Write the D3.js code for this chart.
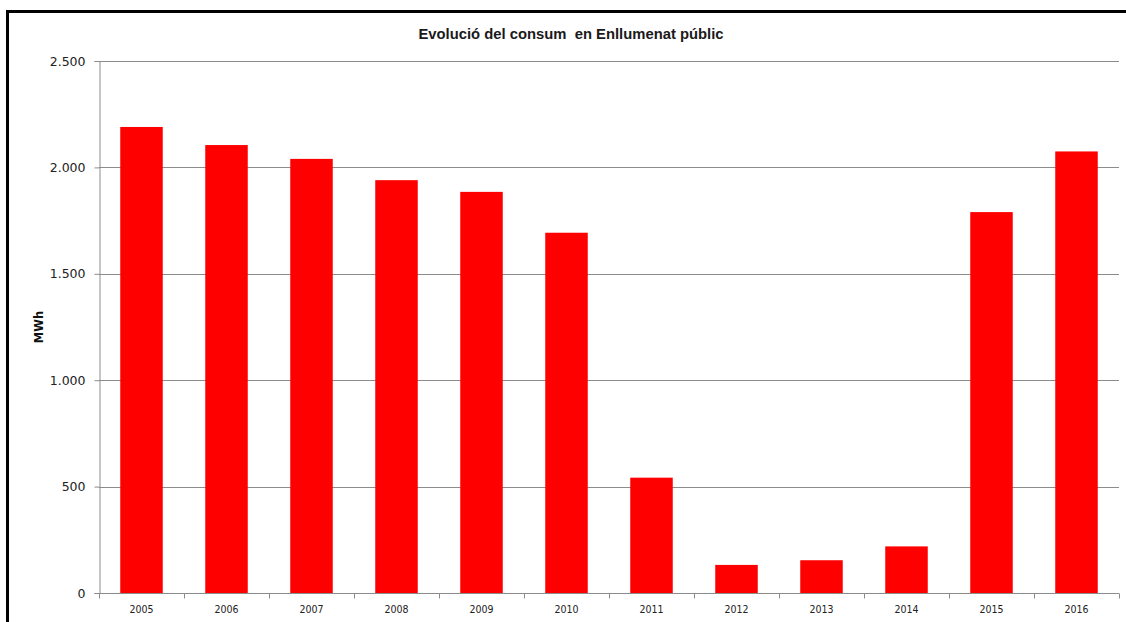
<!DOCTYPE html>
<html>
<head>
<meta charset="utf-8">
<script src="https://cdn.jsdelivr.net/npm/d3@7"></script>
<style>
  html, body { margin: 0; padding: 0; background: #fff; }
  svg { display: block; }
</style>
</head>
<body>
<svg id="chart" width="1126" height="622"></svg>
<script>
const categories = ["2005","2006","2007","2008","2009","2010","2011","2012","2013","2014","2015","2016"];
const values = [2190, 2105, 2040, 1940, 1885, 1693, 542, 132, 154, 219, 1790, 2075];
const yTicks = [0, 500, 1000, 1500, 2000, 2500];
const titleText = "Evolució del consum  en Enllumenat públic";
const yAxisLabel = "MWh";

const svg = d3.select("#chart");
const W = 1126, H = 622;
const plot = { left: 99, right: 1119, top: 61, bottom: 593 };

// chart border (cropped at right and bottom)
svg.append("rect")
  .attr("x", 7.5).attr("y", 11.5)
  .attr("width", W + 20).attr("height", H + 20)
  .attr("fill", "#fff").attr("stroke", "#000").attr("stroke-width", 3);

const x = d3.scaleBand().domain(categories).range([plot.left, plot.right]).paddingInner(0.5).paddingOuter(0.25);
const y = d3.scaleLinear().domain([0, 2500]).range([plot.bottom, plot.top]);

const fmt = v => d3.format(",")(v).replace(/,/g, ".");

// gridlines
svg.append("g").selectAll("line").data(yTicks.filter(t => t > 0)).join("line")
  .attr("x1", plot.left).attr("x2", plot.right)
  .attr("y1", d => Math.round(y(d)) + 0.5).attr("y2", d => Math.round(y(d)) + 0.5)
  .attr("stroke", "#8c8c8c").attr("stroke-width", 1);

// bars
svg.append("g").selectAll("rect").data(values).join("rect")
  .attr("x", (d, i) => x(categories[i]))
  .attr("width", x.bandwidth())
  .attr("y", d => y(d))
  .attr("height", d => y(0) - y(d))
  .attr("fill", "#ff0000");

// y axis
const yAxis = d3.axisLeft(y).tickValues(yTicks).tickFormat(fmt).tickSize(5).tickPadding(9);
const gy = svg.append("g").attr("transform", `translate(${plot.left + 0.5},0)`).call(yAxis);
gy.select(".domain").attr("stroke", "#8c8c8c");
gy.selectAll(".tick line").attr("stroke", "#8c8c8c");
gy.selectAll(".tick text").attr("font-family", "DejaVu Sans, sans-serif").attr("font-size", "12.5px").attr("fill", "#222");

// x axis (ticks between categories)
const xAxis = d3.axisBottom(x).tickSize(0).tickPadding(12);
const gx = svg.append("g").attr("transform", `translate(0,${plot.bottom + 0.5})`).call(xAxis);
gx.select(".domain").attr("stroke", "#8c8c8c").attr("d", `M${plot.left},0H${plot.right}`);
gx.selectAll(".tick text").attr("font-family", "DejaVu Sans Condensed, DejaVu Sans, sans-serif").attr("font-size", "10.5px").attr("fill", "#222");
const boundaries = d3.range(categories.length + 1).map(i => plot.left + (plot.right - plot.left) * i / categories.length);
gx.append("g").selectAll("line").data(boundaries).join("line")
  .attr("x1", d => Math.round(d) + 0.5).attr("x2", d => Math.round(d) + 0.5)
  .attr("y1", 0).attr("y2", 5).attr("stroke", "#8c8c8c");

// title
svg.append("text")
  .attr("x", 571).attr("y", 39)
  .attr("text-anchor", "middle")
  .attr("font-family", "Liberation Sans, Arial, sans-serif")
  .attr("font-weight", "bold").attr("font-size", "14.8px")
  .attr("fill", "#1a1a1a")
  .style("white-space", "pre")
  .text(titleText);

// y label
svg.append("text")
  .attr("transform", `translate(43,${(plot.top + plot.bottom) / 2}) rotate(-90)`)
  .attr("text-anchor", "middle")
  .attr("font-family", "DejaVu Sans, sans-serif")
  .attr("font-weight", "bold").attr("font-size", "11.5px")
  .attr("fill", "#111")
  .text(yAxisLabel);
</script>
</body>
</html>
